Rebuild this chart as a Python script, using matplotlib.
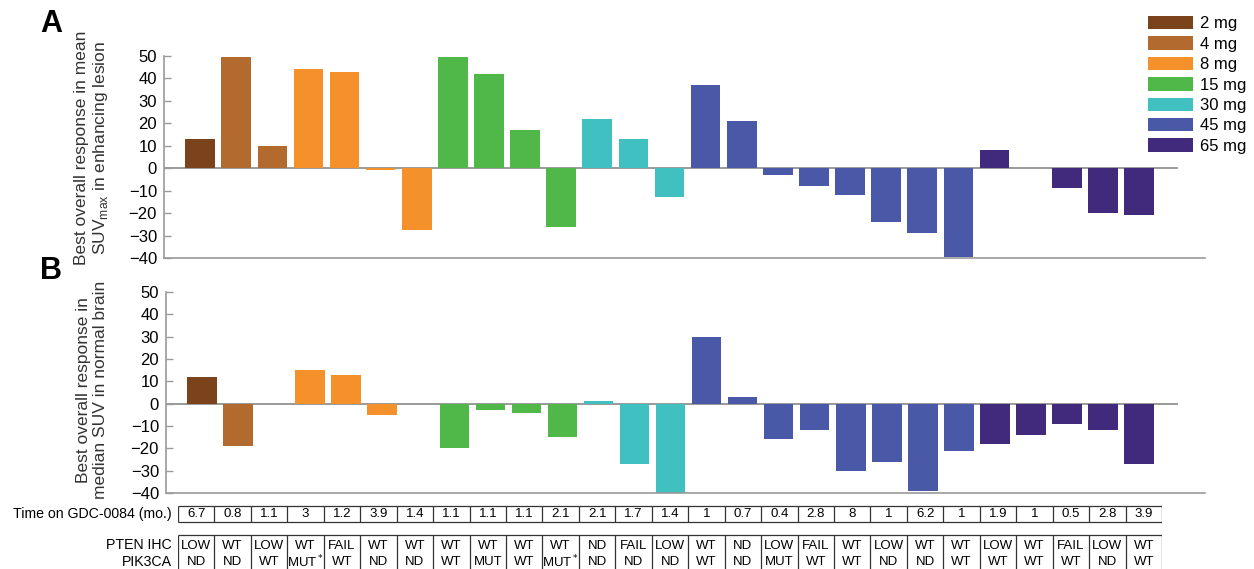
import numpy as np
import matplotlib
matplotlib.use("Agg")
import matplotlib.pyplot as plt
from matplotlib.patches import Patch

plt.rcParams['font.family'] = ['Liberation Sans', 'DejaVu Sans']

# dose groups and colours
dose_labels = ['2 mg', '4 mg', '8 mg', '15 mg', '30 mg', '45 mg', '65 mg']
dose_colors = ['#7a431c', '#b26a2e', '#f5912a', '#4fb848', '#40c0c0', '#4a59a7', '#41297b']

# dose of each patient (index into dose_labels)
patient_dose = [0, 1, 1, 2, 2, 2, 2, 3, 3, 3, 3, 4, 4, 4,
                5, 5, 5, 5, 5, 5, 5, 5, 6, 6, 6, 6, 6]

# A: best overall response in mean SUVmax, enhancing lesion (%)
resp_lesion = [13, 49.5, 10, 44, 43, -1, -27.5, 49.5, 42, 17, -26, 22, 13, -13,
               37, 21, -3, -8, -12, -24, -29, -39.5, 8, np.nan, -9, -20, -21]
# B: best overall response in median SUV, normal brain (%)
resp_brain = [12, -19, np.nan, 15, 13, -5, np.nan, -20, -3, -4, -15, 1, -27, -40,
              30, 3, -16, -12, -30, -26, -39, -21, -18, -14, -9, -12, -27]

time_on_drug = ['6.7', '0.8', '1.1', '3', '1.2', '3.9', '1.4', '1.1', '1.1', '1.1', '2.1',
                '2.1', '1.7', '1.4', '1', '0.7', '0.4', '2.8', '8', '1', '6.2', '1',
                '1.9', '1', '0.5', '2.8', '3.9']
pten_ihc = ['LOW', 'WT', 'LOW', 'WT', 'FAIL', 'WT', 'WT', 'WT', 'WT', 'WT', 'WT', 'ND',
            'FAIL', 'LOW', 'WT', 'ND', 'LOW', 'FAIL', 'WT', 'LOW', 'WT', 'WT', 'LOW',
            'WT', 'FAIL', 'LOW', 'WT']
pik3ca = ['ND', 'ND', 'WT', 'MUT$^*$', 'WT', 'ND', 'ND', 'WT', 'MUT', 'WT', 'MUT$^*$',
          'ND', 'ND', 'ND', 'WT', 'ND', 'MUT', 'WT', 'WT', 'ND', 'ND', 'WT', 'WT',
          'WT', 'WT', 'ND', 'WT']

W, H = 1254, 569
fig = plt.figure(figsize=(W / 100, H / 100), dpi=100)

x = np.arange(len(patient_dose))
bar_colors = [dose_colors[d] for d in patient_dose]
axis_gray = '#9a9a9a'


def px(left, top, right, bottom):
    # pixel box -> figure fraction rect
    return [left / W, 1 - bottom / H, (right - left) / W, (bottom - top) / H]


def style_panel(ax):
    ax.set_xlim(-1.0, 27.83)
    ax.set_ylim(-40, 50)
    ax.set_yticks(np.arange(-40, 51, 10))
    for s in ['top', 'right']:
        ax.spines[s].set_visible(False)
    for s in ['left', 'bottom']:
        ax.spines[s].set_color(axis_gray)
        ax.spines[s].set_linewidth(1.2)
    ax.tick_params(axis='y', direction='in', length=5, width=1, color=axis_gray,
                   labelsize=12, pad=5)
    ax.tick_params(axis='x', bottom=False, labelbottom=False)
    ax.axhline(0, xmin=0, xmax=0.973, color=axis_gray, lw=1.4, zorder=1)


axA = fig.add_axes(px(164, 56, 1205, 258))
axA.bar(x, resp_lesion, width=0.82, color=bar_colors, zorder=2)
style_panel(axA)

axB = fig.add_axes(px(166, 292, 1205, 493))
axB.bar(x, resp_brain, width=0.82, color=bar_colors, zorder=2)
style_panel(axB)

fig.text(92 / W, 1 - 148 / H, 'Best overall response in mean\nSUV$_{\\mathregular{max}}$ in enhancing lesion',
         rotation=90, ha='center', va='center', ma='center', fontsize=12.5, color='#333333',
         linespacing=1.15)
fig.text(92 / W, 1 - 390 / H, 'Best overall response in\nmedian SUV in normal brain',
         rotation=90, ha='center', va='center', ma='center', fontsize=12.5, color='#333333',
         linespacing=1.15)

fig.text(40 / W, 1 - 24 / H, 'A', fontsize=22, fontweight='bold', va='center')
fig.text(40 / W, 1 - 271 / H, 'B', fontsize=22, fontweight='bold', va='center')

# legend
handles = [Patch(facecolor=c, edgecolor='none') for c in dose_colors]
fig.legend(handles, dose_labels, loc='upper left', bbox_to_anchor=(1148 / W, 1 - 16 / H),
           frameon=False, fontsize=12, handlelength=2.7, handleheight=0.85,
           labelspacing=0.3, handletextpad=0.4, borderpad=0, borderaxespad=0)

# clinical table below the panels, y in pixels from the top
tax = fig.add_axes([178 / W, 0, (1162 - 178) / W, 1])
tax.set_xlim(-0.5, 26.5)
tax.set_ylim(H, 0)
tax.axis('off')
n = len(time_on_drug)
edges = np.arange(n + 1) - 0.5
line_kw = dict(color='#333333', lw=0.9)

# time on drug row
t_top, t_bot = 506, 522
tax.hlines([t_top, t_bot], -0.5, n - 0.5, **line_kw)
tax.vlines(edges, t_top, t_bot, **line_kw)
for i, v in enumerate(time_on_drug):
    tax.text(i, (t_top + t_bot) / 2, v, ha='center', va='center', fontsize=9.5)

# PTEN / PIK3CA block
g_top, g_bot = 535, 575
tax.hlines([g_top], -0.5, n - 0.5, **line_kw)
tax.vlines(edges, g_top, g_bot, **line_kw)
for i, (p, k) in enumerate(zip(pten_ihc, pik3ca)):
    tax.text(i, 546, p, ha='center', va='center', fontsize=9.5)
    tax.text(i, 562, k, ha='center', va='center', fontsize=9.5)

fig.text(172 / W, 1 - 514 / H, 'Time on GDC-0084 (mo.)', ha='right', va='center', fontsize=10.2)
fig.text(172 / W, 1 - 545 / H, 'PTEN IHC', ha='right', va='center', fontsize=10.2)
fig.text(172 / W, 1 - 562 / H, 'PIK3CA', ha='right', va='center', fontsize=10.2)

fig.savefig('out.png', dpi=100)
